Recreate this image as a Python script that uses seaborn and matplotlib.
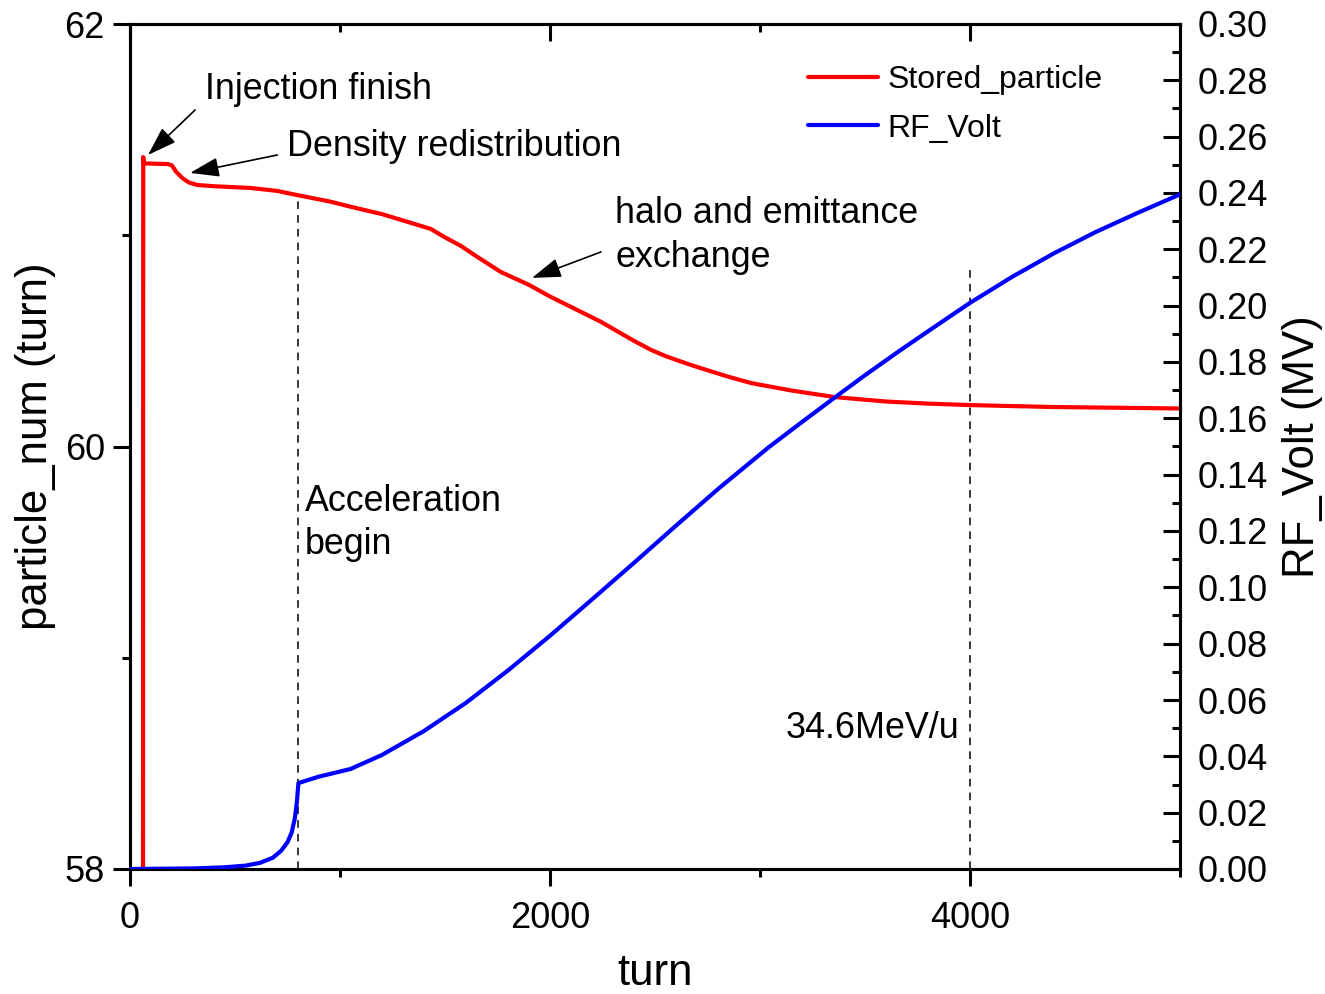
import numpy as np
import pandas as pd
import matplotlib
matplotlib.use("Agg")
import matplotlib.pyplot as plt
from matplotlib.ticker import MultipleLocator, FormatStrFormatter
from matplotlib.lines import Line2D
import seaborn as sns

# ---- data ----
red_turn = [62, 63, 66, 181, 200, 220, 250, 280, 320, 400, 573, 700, 797, 950, 1055,
            1200, 1300, 1432, 1500, 1575, 1650, 1766, 1900, 2000, 2243, 2400, 2482,
            2550, 2650, 2721, 2850, 2959, 3150, 3356, 3600, 3800, 4000, 4391, 5000]
red_num = [58.0, 61.37, 61.34, 61.337, 61.33, 61.30, 61.27, 61.25, 61.238, 61.232,
           61.224, 61.21, 61.19, 61.16, 61.134, 61.10, 61.07, 61.03, 60.99, 60.95,
           60.90, 60.826, 60.765, 60.71, 60.59, 60.50, 60.457, 60.428, 60.393, 60.37,
           60.33, 60.30, 60.265, 60.234, 60.213, 60.203, 60.196, 60.187, 60.18]

blue_turn = [0, 300, 450, 550, 620, 680, 720, 750, 770, 785, 795, 802, 900, 1050,
             1200, 1400, 1600, 1800, 2000, 2200, 2400, 2600, 2800, 3041, 3200, 3356,
             3500, 3661, 3800, 4000, 4200, 4400, 4600, 4800, 5000]
blue_volt = [0.0, 0.0002, 0.0006, 0.0012, 0.0022, 0.004, 0.0065, 0.0095, 0.013, 0.018,
             0.024, 0.0305, 0.0328, 0.0355, 0.0405, 0.049, 0.059, 0.0705, 0.0828,
             0.0957, 0.1087, 0.1219, 0.1349, 0.1497, 0.1587, 0.1674, 0.1753, 0.1838,
             0.1909, 0.201, 0.2102, 0.2186, 0.2262, 0.233, 0.2395]

series_names = ["Stored_particle", "RF_Volt"]
vline_turns = [800, 4000]
vline_tops = [61.19, 60.845]

x_major = [0, 2000, 4000]
left_major = [58, 60, 62]

# ---- style ----
sns.set_style("ticks")
plt.rcParams["font.family"] = ["Liberation Sans", "DejaVu Sans"]
for k in ["text.color", "axes.labelcolor", "xtick.color", "ytick.color", "axes.edgecolor"]:
    plt.rcParams[k] = "black"

fig = plt.figure(figsize=(13.25, 9.94), dpi=100)
ax = fig.add_axes([130 / 1325, 125 / 994, 1050 / 1325, 845 / 994])

df_red = pd.DataFrame({"turn": red_turn, "num": red_num})
df_blue = pd.DataFrame({"turn": blue_turn, "volt": blue_volt})

sns.lineplot(data=df_red, x="turn", y="num", ax=ax, color="#ff0000", lw=3,
             legend=False, sort=False, zorder=3)
ax2 = ax.twinx()
sns.lineplot(data=df_blue, x="turn", y="volt", ax=ax2, color="#0000ff", lw=3,
             legend=False, sort=False, zorder=3)

ax.set_xlim(0, 5000)
ax.set_ylim(58, 62)
ax2.set_ylim(0, 0.30)

# dashed vertical lines
for t, top in zip(vline_turns, vline_tops):
    ax.plot([t, t], [58, top], color="black", lw=1.1, ls=(0, (5, 4)), zorder=2)

# spines
for a in (ax, ax2):
    for s in a.spines.values():
        s.set_linewidth(2.2)
        s.set_color("black")
        s.set_visible(True)

# ticks
ax.set_xticks(x_major)
ax.xaxis.set_minor_locator(MultipleLocator(1000))
ax.set_yticks(left_major)
ax.yaxis.set_minor_locator(MultipleLocator(1))
ax.tick_params(axis="both", which="major", direction="out", length=12, width=2.2,
               labelsize=26, colors="black")
ax.tick_params(axis="both", which="minor", direction="out", length=6, width=2.2)
ax.tick_params(axis="x", which="major", pad=11)
ax.tick_params(axis="y", which="major", pad=6)
ax.tick_params(axis="x", top=False, which="both")
ax.tick_params(axis="y", right=False, which="both")

# top ticks (inward) through the twin axes' x axis
ax2.xaxis.set_visible(True)
ax2.xaxis.set_ticks_position("top")
ax2.set_xlabel("")
ax2.tick_params(axis="x", which="major", direction="in", length=12, width=2.2,
                top=True, bottom=False, labeltop=False, labelbottom=False)
ax2.tick_params(axis="x", which="minor", direction="in", length=6, width=2.2,
                top=True, bottom=False, labeltop=False, labelbottom=False)

ax2.yaxis.set_major_locator(MultipleLocator(0.02))
ax2.yaxis.set_minor_locator(MultipleLocator(0.01))
ax2.yaxis.set_major_formatter(FormatStrFormatter("%.2f"))
ax2.tick_params(axis="y", which="major", direction="in", length=12, width=2.2,
                labelsize=26, pad=13)
ax2.tick_params(axis="y", which="minor", direction="in", length=6, width=2.2)

ax.set_xlabel("turn", fontsize=31.5, labelpad=12)
ax.set_ylabel("particle_num (turn)", fontsize=31.5, labelpad=6)
ax2.set_ylabel("RF_Volt (MV)", fontsize=31.5, labelpad=10)

# annotations
fs = 25.8
arrow = dict(arrowstyle="-|>,head_length=0.9,head_width=0.3", color="black", lw=1.2,
             mutation_scale=20, shrinkA=0, shrinkB=0)
ax.text(358, 61.688, "Injection finish", fontsize=fs, ha="left", va="center")
ax.annotate("", xy=(86, 61.38), xytext=(310, 61.593), arrowprops=arrow)
ax.text(749, 61.418, "Density redistribution", fontsize=fs, ha="left", va="center")
ax.annotate("", xy=(286, 61.295), xytext=(702, 61.38), arrowprops=arrow)
ax.text(2310, 61.105, "halo and emittance", fontsize=fs, ha="left", va="center")
ax.text(2310, 60.897, "exchange", fontsize=fs, ha="left", va="center")
ax.annotate("", xy=(1914, 60.798), xytext=(2243, 60.921), arrowprops=arrow)
ax.text(831, 59.742, "Acceleration", fontsize=fs, ha="left", va="center")
ax.text(831, 59.538, "begin", fontsize=fs, ha="left", va="center")
ax.text(3122, 58.663, "34.6MeV/u", fontsize=fs, ha="left", va="center")

handles = [Line2D([], [], color="#ff0000", lw=3), Line2D([], [], color="#0000ff", lw=3)]
ax2.legend(handles, series_names, loc="upper left",
           bbox_to_anchor=((808 - 130) / 1050, (869 - 65) / 845),
           frameon=False, fontsize=23, handlelength=2.2, handletextpad=0.3,
           labelspacing=0.58, borderaxespad=0, borderpad=0)

fig.savefig("out.png", dpi=100)
